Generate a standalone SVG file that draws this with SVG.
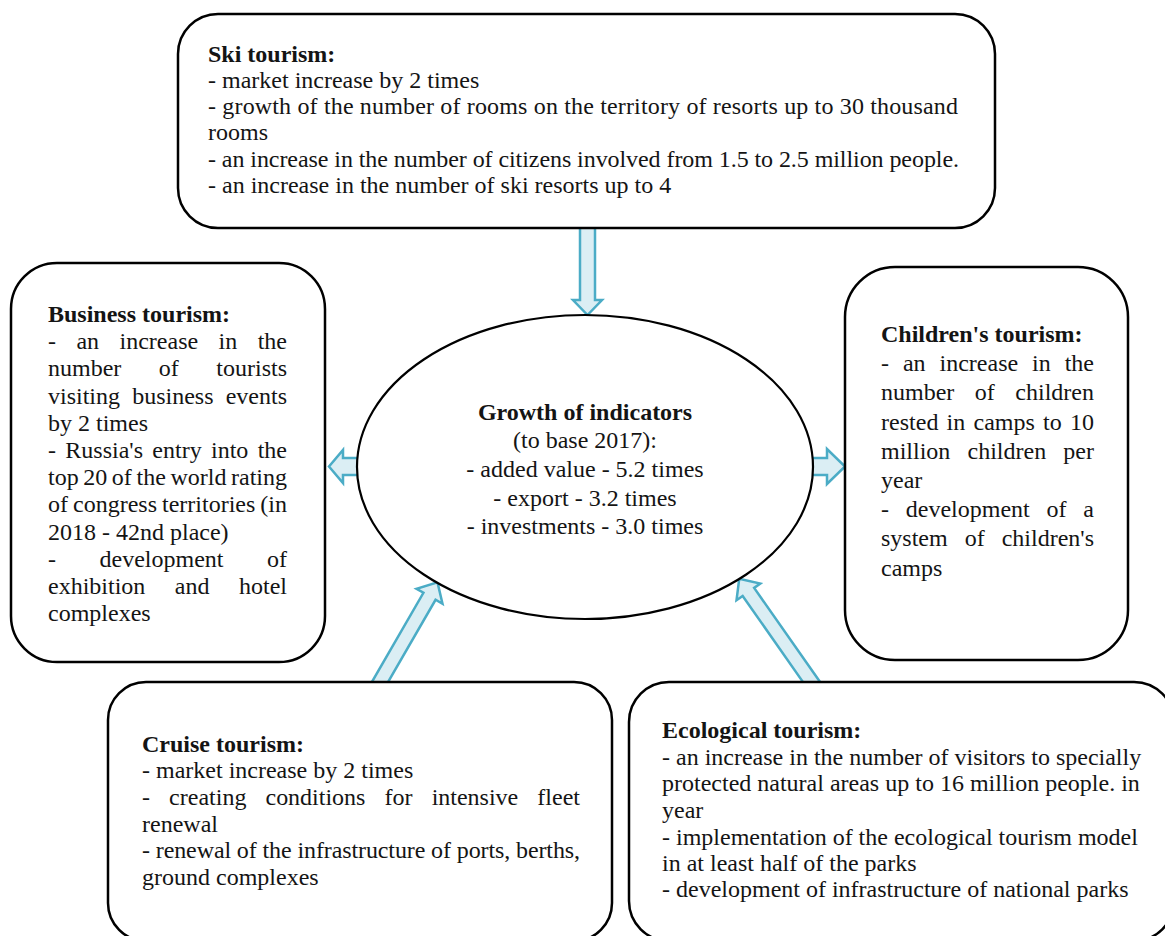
<svg xmlns="http://www.w3.org/2000/svg" width="1165" height="936" viewBox="0 0 1165 936">
<style>
.box{fill:#ffffff;stroke:#000000;stroke-width:2.5}
.arr{fill:#dbeef4;stroke:#4bacc6;stroke-width:2.5;stroke-linejoin:miter}
.t{font-family:"Liberation Serif","Times New Roman",serif;font-size:24px;fill:#141414}
.b{font-weight:bold}
.c{text-anchor:middle}
</style>
<rect x="0" y="0" width="1165" height="936" fill="#ffffff"/>
<g id="connectors">
<polygon class="arr" points="580,222 595,222 595,300 602,300 587.5,315 573,300 580,300"/>
<polygon class="arr" points="365,458 343,458 343,450 329,466.5 343,483 343,475 365,475"/>
<polygon class="arr" points="805,458 827,458 827,449 845,466.5 827,484 827,475 805,475"/>
<polygon class="arr" transform="translate(380,682) rotate(-60)" points="-12,7 99,7 99,15 115,0 99,-15 99,-7 -12,-7"/>
<polygon class="arr" transform="translate(811.5,682) rotate(-125)" points="-12,7 110,7 110,14.5 126,0 110,-14.5 110,-7 -12,-7"/>
</g>
<g id="ski">
<rect class="box" x="178" y="14" width="817" height="214" rx="40" ry="40"/>
<text class="t b" x="208" y="61.5">Ski tourism:</text>
<text class="t" x="208" y="87.5">- market increase by 2 times</text>
<text class="t" x="208" y="113.5" textLength="750" lengthAdjust="spacing">- growth of the number of rooms on the territory of resorts up to 30 thousand</text>
<text class="t" x="208" y="140">rooms</text>
<text class="t" x="208" y="166.5" textLength="751" lengthAdjust="spacing">- an increase in the number of citizens involved from 1.5 to 2.5 million people.</text>
<text class="t" x="208" y="193">- an increase in the number of ski resorts up to 4</text>
</g>
<g id="business">
<rect class="box" x="11" y="263" width="314" height="399" rx="46" ry="46"/>
<text class="t b" x="48" y="322">Business tourism:</text>
<text class="t" x="48" y="349.2" style="word-spacing:14.4px" textLength="239" lengthAdjust="spacing">- an increase in the</text>
<text class="t" x="48" y="376.4" style="word-spacing:31.5px" textLength="239" lengthAdjust="spacing">number of tourists</text>
<text class="t" x="48" y="403.6" style="word-spacing:6.1px" textLength="239" lengthAdjust="spacing">visiting business events</text>
<text class="t" x="48" y="430.8">by 2 times</text>
<text class="t" x="48" y="458" style="word-spacing:3.3px" textLength="239" lengthAdjust="spacing">- Russia's entry into the</text>
<text class="t" x="48" y="485.2" style="word-spacing:-1.4px" textLength="239" lengthAdjust="spacing">top 20 of the world rating</text>
<text class="t" x="48" y="512.4" style="word-spacing:-1px" textLength="239" lengthAdjust="spacing">of congress territories (in</text>
<text class="t" x="48" y="539.6">2018 - 42nd place)</text>
<text class="t" x="48" y="566.8" style="word-spacing:37.5px" textLength="239" lengthAdjust="spacing">- development of</text>
<text class="t" x="48" y="594" style="word-spacing:23.5px" textLength="239" lengthAdjust="spacing">exhibition and hotel</text>
<text class="t" x="48" y="621.2">complexes</text>
</g>
<g id="children">
<rect class="box" x="845" y="267" width="283" height="393" rx="50" ry="50"/>
<text class="t b" x="881" y="342">Children's tourism:</text>
<text class="t" x="881" y="371.2" style="word-spacing:7.9px" textLength="213" lengthAdjust="spacing">- an increase in the</text>
<text class="t" x="881" y="400.4" style="word-spacing:14.5px" textLength="213" lengthAdjust="spacing">number of children</text>
<text class="t" x="881" y="429.6" style="word-spacing:2.2px" textLength="213" lengthAdjust="spacing">rested in camps to 10</text>
<text class="t" x="881" y="458.8" style="word-spacing:11.2px" textLength="213" lengthAdjust="spacing">million children per</text>
<text class="t" x="881" y="488">year</text>
<text class="t" x="881" y="517.2" style="word-spacing:10.8px" textLength="213" lengthAdjust="spacing">- development of a</text>
<text class="t" x="881" y="546.4" style="word-spacing:11px" textLength="213" lengthAdjust="spacing">system of children's</text>
<text class="t" x="881" y="575.6">camps</text>
</g>
<g id="growth">
<ellipse cx="585" cy="467" rx="228" ry="152" fill="#ffffff" stroke="#000000" stroke-width="2.2"/>
<text class="t b c" x="585" y="419.5">Growth of indicators</text>
<text class="t c" x="585" y="448">(to base 2017):</text>
<text class="t c" x="585" y="476.5">- added value - 5.2 times</text>
<text class="t c" x="585" y="505.5">- export - 3.2 times</text>
<text class="t c" x="585" y="534">- investments - 3.0 times</text>
</g>
<g id="cruise">
<rect class="box" x="108" y="682" width="504" height="259" rx="38" ry="38"/>
<text class="t b" x="142" y="751.5">Cruise tourism:</text>
<text class="t" x="142" y="778">- market increase by 2 times</text>
<text class="t" x="142" y="804.5" style="word-spacing:13.1px" textLength="438" lengthAdjust="spacing">- creating conditions for intensive fleet</text>
<text class="t" x="142" y="831.5">renewal</text>
<text class="t" x="142" y="858" textLength="438" lengthAdjust="spacing">- renewal of the infrastructure of ports, berths,</text>
<text class="t" x="142" y="885">ground complexes</text>
</g>
<g id="ecological">
<rect class="box" x="629" y="682" width="545" height="259" rx="40" ry="40"/>
<text class="t b" x="662" y="738">Ecological tourism:</text>
<text class="t" x="662" y="764.5">- an increase in the number of visitors to specially</text>
<text class="t" x="662" y="791">protected natural areas up to 16 million people. in</text>
<text class="t" x="662" y="818">year</text>
<text class="t" x="662" y="844.5">-  implementation of the ecological tourism model</text>
<text class="t" x="662" y="870.5">in at least half of the parks</text>
<text class="t" x="662" y="897">- development of infrastructure of national parks</text>
</g>
</svg>
